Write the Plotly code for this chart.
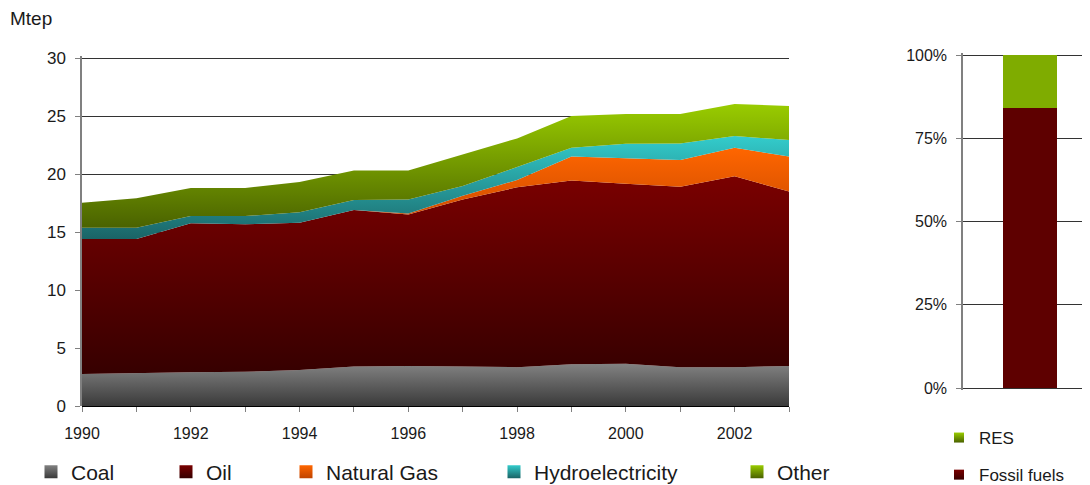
import numpy as np
import plotly.graph_objects as go

# ---------------- data ----------------
years = list(range(1990, 2004))
coal = [2.75, 2.85, 2.9, 2.95, 3.1, 3.4, 3.45, 3.4, 3.35, 3.6, 3.65, 3.35, 3.35, 3.45]
oil = [11.65, 11.55, 12.85, 12.71, 12.7, 13.5, 13.05, 14.4, 15.5, 15.85, 15.5, 15.55, 16.45, 15.05]
natural_gas = [0, 0, 0, 0, 0, 0, 0.1, 0.33, 0.63, 2.05, 2.2, 2.3, 2.47, 3.0]
hydro = [0.97, 0.97, 0.63, 0.72, 0.9, 0.86, 1.2, 0.84, 1.12, 0.77, 1.25, 1.44, 1.0, 1.43]
other = [2.16, 2.53, 2.42, 2.42, 2.6, 2.54, 2.5, 2.73, 2.47, 2.73, 2.57, 2.53, 2.76, 2.93]
series_names = ["Coal", "Oil", "Natural Gas", "Hydroelectricity", "Other"]
year_labels = [str(y) if y % 2 == 0 else "" for y in years]
mtep_ticks = [0, 5, 10, 15, 20, 25, 30]

share_names = ["Fossil fuels", "RES"]
share_values = [84, 16]
share_ticks = [0, 25, 50, 75, 100]
share_tick_labels = [f"{v}%" for v in share_ticks]

# ---------------- styles ----------------
FONT = "Liberation Sans, Arial, sans-serif"
TXT = "#1a1a1a"
grad = {
    "Coal": ("#3a3a3a", "#828282"),
    "Oil": ("#360000", "#7a0000"),
    "Natural Gas": ("#c04400", "#ff6600"),
    "Hydroelectricity": ("#1a6466", "#33cccc"),
    "Other": ("#4a6200", "#99cc00"),
}
share_col = {"Fossil fuels": ("#3a0000", "#7a0000"), "RES": ("#4a6200", "#99cc00")}
bar_fill = {"Fossil fuels": "#5e0000", "RES": "#7fac00"}

fig = go.Figure()

values = [coal, oil, natural_gas, hydro, other]
cum = np.cumsum(np.array(values, dtype=float), axis=0)
for i, (name, vals) in enumerate(zip(series_names, values)):
    lower = cum[i - 1] if i > 0 else np.zeros(len(years))
    upper = cum[i]
    dark, light = grad[name]
    fig.add_trace(go.Scatter(
        x=years, y=vals, name=name, stackgroup="energy", mode="lines",
        line=dict(width=0, color=light),
        fillgradient=dict(type="vertical", colorscale=[[0, dark], [1, light]],
                          start=float(lower.min()), stop=float(upper.max())),
        showlegend=False, hoverinfo="x+y+name",
        xaxis="x", yaxis="y",
    ))

# legend entries for the left chart (one legend per entry for spacing)
legend_keys = ["legend", "legend2", "legend3", "legend4", "legend5"]
for name, lk in zip(series_names, legend_keys):
    dark, light = grad[name]
    fig.add_trace(go.Scatter(
        x=[None], y=[None], mode="markers", name=name, legend=lk,
        marker=dict(symbol="square", size=13, color=light,
                    gradient=dict(type="vertical", color=dark), line=dict(width=0)),
        xaxis="x", yaxis="y",
    ))

# right chart: 100% bar
for name, v in zip(share_names, share_values):
    fig.add_trace(go.Bar(
        x=[0], y=[v], name=name, width=0.41,
        marker=dict(color=bar_fill[name], line=dict(width=0)),
        showlegend=False, xaxis="x2", yaxis="y2",
    ))
for name in ["RES", "Fossil fuels"]:
    dark, light = share_col[name]
    fig.add_trace(go.Scatter(
        x=[None], y=[None], mode="markers", name=name, legend="legend6",
        legendgroup=name,
        marker=dict(symbol="square", size=10, color=light,
                    gradient=dict(type="vertical", color=dark), line=dict(width=0)),
        xaxis="x2", yaxis="y2",
    ))

# page body adds an 8px margin, so lay out in window pixels minus that offset
OFF = 8
W, H = 1090 - OFF, 485 - OFF
def px(x):
    return (x - OFF) / W
def py(y):
    return (H - (y - OFF)) / H

leg_text_x = [71, 206, 326, 534, 777]
leg_common = dict(orientation="h", yanchor="middle", xanchor="left",
                  font=dict(family=FONT, size=21, color=TXT),
                  bgcolor="rgba(0,0,0,0)", itemwidth=30)
layout_legends = {}
for lk, tx in zip(legend_keys, leg_text_x):
    layout_legends[lk] = dict(x=px(tx - 40), y=py(472), **leg_common)
layout_legends["legend6"] = dict(
    x=px(979 - 40), y=py(420), yanchor="top", xanchor="left", orientation="v",
    font=dict(family=FONT, size=17, color=TXT), bgcolor="rgba(0,0,0,0)",
    tracegroupgap=12, itemwidth=30, traceorder="grouped")

# axis ranges padded slightly so the gridlines at the range ends stay visible
y1_px0, y1_px30 = 406, 58
y1_top_px = 56
y1_top = 30 * (y1_px0 - y1_top_px) / (y1_px0 - y1_px30)

y2_px0, y2_px100 = 388, 55
pad2 = 2
u2 = 100 / (y2_px0 - y2_px100)

fig.update_layout(
    template="none",
    width=W, height=H, margin=dict(l=0, r=0, t=0, b=0, pad=0, autoexpand=False),
    paper_bgcolor="white", plot_bgcolor="white",
    barmode="stack",
    font=dict(family=FONT, color=TXT),
    xaxis=dict(domain=[px(82), px(789)], range=[1990, 2003],
               tickvals=years, ticktext=year_labels,
               ticks="outside", ticklen=5, tickcolor="#808080", tickwidth=1,
               showline=False, showgrid=False, zeroline=False, automargin=False,
               tickfont=dict(family=FONT, size=16, color=TXT),
               ticklabelstandoff=8),
    yaxis=dict(domain=[py(y1_px0), py(y1_top_px)], range=[0, y1_top],
               tickvals=mtep_ticks,
               showgrid=True, gridcolor="#333333", gridwidth=1,
               showline=True, linecolor="#808080", linewidth=1.5,
               ticks="outside", ticklen=5, tickcolor="#808080", tickwidth=1,
               zeroline=True, zerolinecolor="#000000", zerolinewidth=1.5,
               automargin=False,
               tickfont=dict(family=FONT, size=17, color=TXT),
               ticklabelstandoff=6),
    xaxis2=dict(domain=[px(963), 1.0], range=[-0.5, 0.448],
                showticklabels=False, ticks="", showgrid=False,
                showline=False, zeroline=False, anchor="y2", automargin=False),
    yaxis2=dict(domain=[py(y2_px0 + pad2), py(y2_px100 - pad2)],
                range=[-pad2 * u2, 100 + pad2 * u2],
                tickvals=share_ticks, ticktext=share_tick_labels,
                showgrid=True, gridcolor="#333333", gridwidth=1,
                showline=True, linecolor="#808080", linewidth=1.5,
                ticks="outside", ticklen=5, tickcolor="#808080", tickwidth=1,
                zeroline=False, anchor="x2", automargin=False,
                tickfont=dict(family=FONT, size=16, color=TXT),
                ticklabelstandoff=6),
    annotations=[dict(text="Mtep", x=px(8), y=py(18), xref="paper", yref="paper",
                      xanchor="left", yanchor="middle", showarrow=False,
                      font=dict(family=FONT, size=19, color=TXT))],
    **layout_legends,
)

fig.write_html("out.html")
